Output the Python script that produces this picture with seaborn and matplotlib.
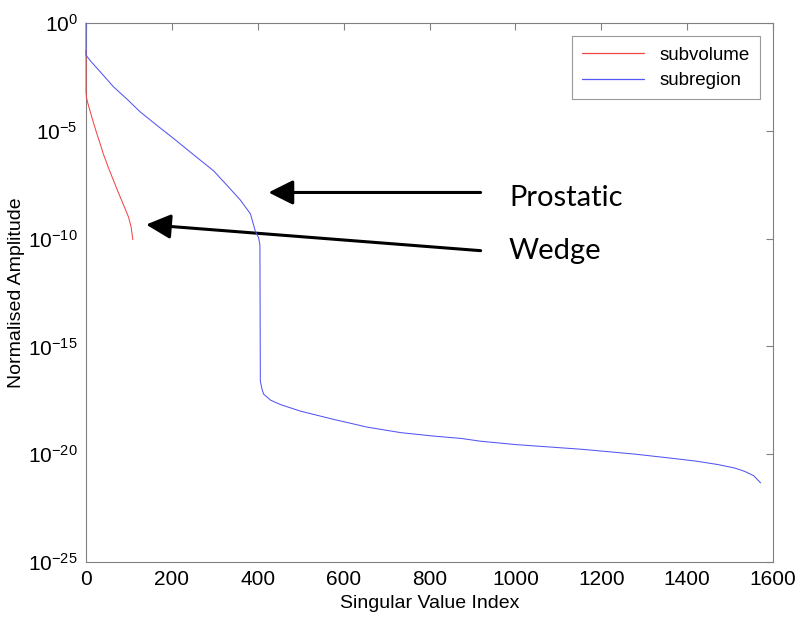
import numpy as np
import pandas as pd
import matplotlib
matplotlib.use("Agg")
import matplotlib.pyplot as plt
from matplotlib.lines import Line2D
import seaborn as sns

# singular value spectra
subvolume_idx = [0, 0, 1, 4, 9, 17, 25, 33, 40, 52, 64, 74, 83, 92, 99, 105, 109]
subvolume_amp = [5.5e-2, 6.3e-4, 3.5e-4, 2.0e-4, 8.9e-5, 2.5e-5, 7.6e-6, 2.5e-6,
                 8.9e-7, 2.0e-7, 5.0e-8, 1.6e-8, 5.9e-9, 2.2e-9, 1.0e-9, 3.5e-10, 8.9e-11]

subregion_idx = [0, 0, 12, 33, 64, 95, 126, 165, 204, 250, 297, 328, 359, 383,
                 394, 402, 405, 406, 410, 414, 430, 453, 499, 577, 655, 733, 810,
                 873, 919, 1000, 1153, 1200, 1280, 1355, 1420, 1472, 1510, 1534,
                 1555, 1571]
subregion_amp = [1.0, 3.2e-2, 1.6e-2, 5.5e-3, 1.1e-3, 3.0e-4, 7.6e-5, 1.8e-5,
                 4.4e-6, 7.9e-7, 1.4e-7, 3.0e-8, 6.3e-9, 1.4e-9,
                 2.3e-10, 1.1e-10, 5.0e-11, 2.5e-17, 1.0e-17, 6.0e-18, 3.2e-18,
                 2.0e-18, 1.0e-18, 4.1e-19, 1.8e-19, 1.0e-19, 6.9e-20,
                 5.4e-20, 4.0e-20, 2.8e-20, 1.7e-20, 1.4e-20, 1.0e-20, 6.8e-21,
                 4.8e-21, 3.3e-21, 2.3e-21, 1.6e-21, 1.0e-21, 4.7e-22]

series_names = ["subvolume", "subregion"]
series_colors = ["#f04848", "#5555f5"]

df = pd.concat([
    pd.DataFrame({"index": subvolume_idx, "amp": subvolume_amp, "series": "subvolume"}),
    pd.DataFrame({"index": subregion_idx, "amp": subregion_amp, "series": "subregion"}),
])

sns.set_style("white")
plt.rcParams["font.family"] = ["Liberation Sans Narrow", "Liberation Sans", "DejaVu Sans"]
plt.rcParams["axes.unicode_minus"] = False
plt.rcParams["text.color"] = "black"
plt.rcParams["axes.labelcolor"] = "black"
plt.rcParams["xtick.labelcolor"] = "black"
plt.rcParams["ytick.labelcolor"] = "black"

fig = plt.figure(figsize=(8, 6.25), dpi=100)
ax = fig.add_axes([0.1075, 0.1008, 0.8588, 0.8624])

sns.lineplot(data=df, x="index", y="amp", hue="series", hue_order=series_names,
             palette=series_colors, linewidth=0.75, ax=ax, sort=False,
             estimator=None, legend=False)
for ln in ax.get_lines():
    ln.set_clip_on(False)
    ln.set_zorder(5)

ax.set_yscale("log")
ax.set_xlim(0, 1600)
ax.set_ylim(1e-25, 1e0)
ax.set_xticks(np.arange(0, 1601, 200))
ax.set_yticks([1e0, 1e-5, 1e-10, 1e-15, 1e-20, 1e-25])
ax.minorticks_off()
ax.tick_params(direction="in", length=5, color="#808080", labelcolor="black",
               top=True, right=True, labelsize=15, pad=6)
for sp in ax.spines.values():
    sp.set_color("#808080")
    sp.set_linewidth(0.8)

ax.set_xlabel("Singular Value Index", fontsize=14, labelpad=4, color="black")
ax.set_ylabel("Normalised Amplitude", fontsize=14, labelpad=2, color="black")

handles = [Line2D([], [], color=c, lw=0.9) for c in series_colors]
leg = ax.legend(handles, series_names, loc="upper right", fontsize=13.5,
                frameon=True, fancybox=False, edgecolor="#808080",
                handlelength=3.3, borderaxespad=0.7, labelspacing=0.45,
                borderpad=0.55, labelcolor="black")
leg.get_frame().set_linewidth(0.8)

arrow = dict(arrowstyle="-|>,head_length=1.0,head_width=0.5", lw=2.2,
             color="black", mutation_scale=15, shrinkA=0, shrinkB=0)
ax.annotate("", xy=(425, 10**-7.86), xytext=(919, 10**-7.86), arrowprops=arrow)
ax.annotate("", xy=(140, 10**-9.35), xytext=(919, 10**-10.56), arrowprops=arrow)
ax.text(985, 10**-8.14, "Prostatic", fontsize=21, family=["Lato", "DejaVu Sans"],
        va="center", ha="left", color="black")
ax.text(985, 10**-10.56, "Wedge", fontsize=21, family=["Lato", "DejaVu Sans"],
        va="center", ha="left", color="black")

fig.savefig("out.png", dpi=100)
